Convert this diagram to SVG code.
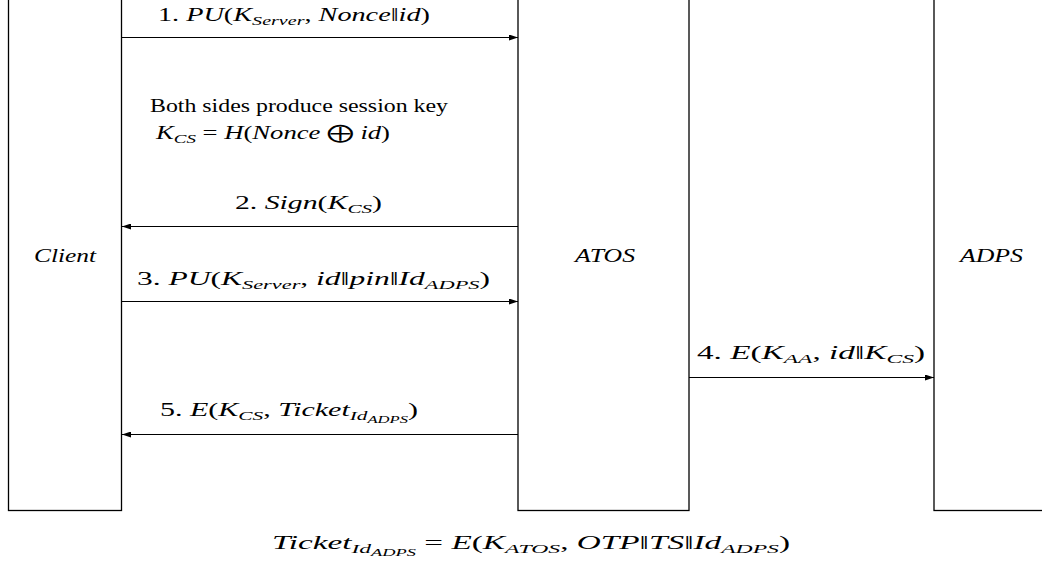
<svg xmlns="http://www.w3.org/2000/svg" width="1042" height="561" viewBox="0 0 1042 561">
<style>
.box{fill:#fff;stroke:#000;stroke-width:1.3}
.msg{stroke:#000;stroke-width:1.2;fill:none}
text{font-family:'Liberation Serif',serif;font-size:19px;fill:#000}
.it{font-style:italic}
.sub{font-size:13.5px;font-style:italic}
.sub2{font-size:10.5px;font-style:italic}
</style>
<defs>
<marker id="ah" markerWidth="9" markerHeight="6" refX="9" refY="3" orient="auto" markerUnits="userSpaceOnUse">
<path d="M0,0 L9,3 L0,6 Z" fill="#000"/>
</marker>
</defs>
<rect width="1042" height="561" fill="#fff"/>
<g id="client">
<rect class="box" x="8.5" y="-5" width="113" height="515.5"/>
<text class="it" x="34" y="262" textLength="62" lengthAdjust="spacingAndGlyphs">Client</text>
</g>
<g id="atos">
<rect class="box" x="518" y="-5" width="171" height="515.5"/>
<text class="it" x="575" y="262" textLength="60" lengthAdjust="spacingAndGlyphs">ATOS</text>
</g>
<g id="adps">
<rect class="box" x="934" y="-5" width="120" height="515.5"/>
<text class="it" x="960" y="262" textLength="63" lengthAdjust="spacingAndGlyphs">ADPS</text>
</g>
<g id="connectors">
<line class="msg" x1="122" y1="37.5" x2="518" y2="37.5" marker-end="url(#ah)"/>
<line class="msg" x1="518" y1="226.5" x2="122" y2="226.5" marker-end="url(#ah)"/>
<line class="msg" x1="122" y1="301.5" x2="518" y2="301.5" marker-end="url(#ah)"/>
<line class="msg" x1="689" y1="377.5" x2="934" y2="377.5" marker-end="url(#ah)"/>
<line class="msg" x1="518" y1="434.5" x2="122" y2="434.5" marker-end="url(#ah)"/>
</g>
<g id="labels">
<text x="158" y="21" textLength="272" lengthAdjust="spacingAndGlyphs">1.  <tspan class="it">PU</tspan>(<tspan class="it">K</tspan><tspan class="sub" dy="4">Server</tspan><tspan dy="-4">, </tspan><tspan class="it">Nonce</tspan>‖<tspan class="it">id</tspan>)</text>
<text x="150" y="112" textLength="298" lengthAdjust="spacingAndGlyphs">Both sides produce session key</text>
<text x="156" y="139" textLength="234" lengthAdjust="spacingAndGlyphs"><tspan class="it">K</tspan><tspan class="sub" dy="4">CS</tspan><tspan dy="-4"> = </tspan><tspan class="it">H</tspan>(<tspan class="it">Nonce</tspan> ⨁ <tspan class="it">id</tspan>)</text>
<text x="235" y="209" textLength="147" lengthAdjust="spacingAndGlyphs">2.  <tspan class="it">Sign</tspan>(<tspan class="it">K</tspan><tspan class="sub" dy="4">CS</tspan><tspan dy="-4">)</tspan></text>
<text x="137" y="285" textLength="353" lengthAdjust="spacingAndGlyphs">3.  <tspan class="it">PU</tspan>(<tspan class="it">K</tspan><tspan class="sub" dy="4">Server</tspan><tspan dy="-4">, </tspan><tspan class="it">id</tspan>‖<tspan class="it">pin</tspan>‖<tspan class="it">Id</tspan><tspan class="sub" dy="4">ADPS</tspan><tspan dy="-4">)</tspan></text>
<text x="697" y="359" textLength="228" lengthAdjust="spacingAndGlyphs">4.  <tspan class="it">E</tspan>(<tspan class="it">K</tspan><tspan class="sub" dy="4">AA</tspan><tspan dy="-4">, </tspan><tspan class="it">id</tspan>‖<tspan class="it">K</tspan><tspan class="sub" dy="4">CS</tspan><tspan dy="-4">)</tspan></text>
<text x="160" y="416" textLength="258" lengthAdjust="spacingAndGlyphs">5.  <tspan class="it">E</tspan>(<tspan class="it">K</tspan><tspan class="sub" dy="4">CS</tspan><tspan dy="-4">, </tspan><tspan class="it">Ticket</tspan><tspan class="sub" dy="4">Id</tspan><tspan class="sub2" dy="3">ADPS</tspan><tspan dy="-7">)</tspan></text>
<text x="272" y="549" textLength="518" lengthAdjust="spacingAndGlyphs"><tspan class="it">Ticket</tspan><tspan class="sub" dy="4">Id</tspan><tspan class="sub2" dy="3">ADPS</tspan><tspan dy="-7"> = </tspan><tspan class="it">E</tspan>(<tspan class="it">K</tspan><tspan class="sub" dy="4">ATOS</tspan><tspan dy="-4">, </tspan><tspan class="it">OTP</tspan>‖<tspan class="it">TS</tspan>‖<tspan class="it">Id</tspan><tspan class="sub" dy="4">ADPS</tspan><tspan dy="-4">)</tspan></text>
</g>
</svg>
